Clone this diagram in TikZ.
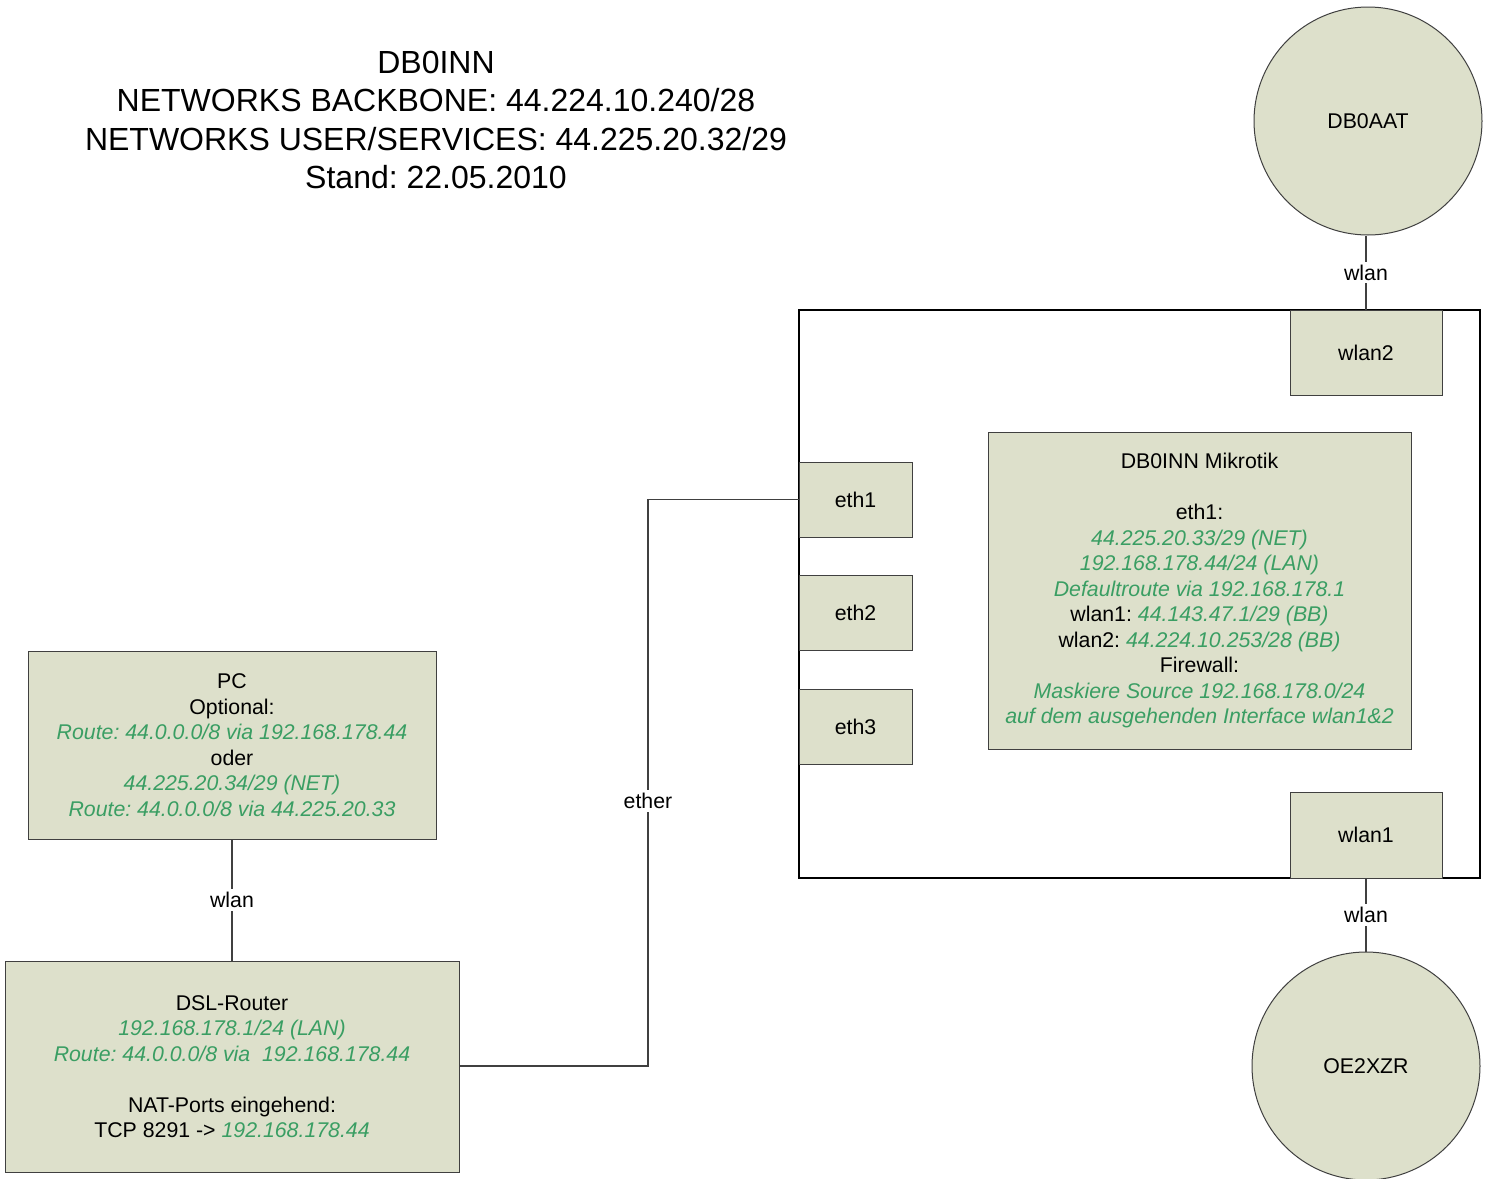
\documentclass[tikz,border=0pt]{standalone}
\usepackage{fontspec}
\setmainfont{Liberation Sans}
\frenchspacing
\begin{document}
\definecolor{boxfill}{HTML}{DDE0CB}
\definecolor{ipgreen}{HTML}{3A9E63}
\definecolor{edge}{HTML}{404040}
\newcommand{\ip}[1]{{\color{ipgreen}\itshape #1}}
\begin{tikzpicture}[x=1pt,y=-1pt,
  body/.style={font=\fontsize{21.3}{25.5}\selectfont, align=center},
  unit/.style={body, draw=edge, line width=1pt, fill=boxfill, rectangle, inner sep=0pt},
  station/.style={body, draw=edge, line width=1pt, fill=boxfill, circle, minimum size=228pt, inner sep=0pt},
  link/.style={draw=edge, line width=1.2pt},
  lbl/.style={body, fill=white, inner sep=3pt}]
\useasboundingbox (0,0) rectangle (1491,1178);
\fill[white] (0,0) rectangle (1491,1178);

% heading
\node[font=\fontsize{32}{38.5}\selectfont, align=center] (title) at (436,120)
  {DB0INN\\NETWORKS BACKBONE: 44.224.10.240/28\\NETWORKS USER/SERVICES: 44.225.20.32/29\\Stand: 22.05.2010};

% router enclosure
\draw[black, line width=2pt] (799,310) rectangle (1480,878);

% remote stations
\node[station] (aat) at (1368,121) {DB0AAT};
\node[station] (xzr) at (1366,1066) {OE2XZR};

% interfaces
\node[unit, minimum width=152pt, minimum height=85pt] (wlan2) at (1366,352.5) {wlan2};
\node[unit, minimum width=152pt, minimum height=86pt] (wlan1) at (1366,835) {wlan1};
\node[unit, minimum width=113pt, minimum height=75pt] (eth1) at (855.5,499.5) {eth1};
\node[unit, minimum width=113pt, minimum height=75pt] (eth2) at (855.5,612.5) {eth2};
\node[unit, minimum width=113pt, minimum height=75pt] (eth3) at (855.5,726.5) {eth3};

% configuration of the Mikrotik
\node[unit, minimum width=423pt, minimum height=317pt] (mikrotik) at (1199.5,590.5)
  {DB0INN Mikrotik\\ \strut\\eth1:\\
   \ip{44.225.20.33/29 (NET)}\\
   \ip{192.168.178.44/24 (LAN)}\\
   \ip{Defaultroute via 192.168.178.1}\\
   wlan1: \ip{44.143.47.1/29 (BB)}\\
   wlan2: \ip{44.224.10.253/28 (BB)}\\
   Firewall:\\
   \ip{Maskiere Source 192.168.178.0/24}\\
   \ip{auf dem ausgehenden Interface wlan1\&2}};

% PC
\node[unit, minimum width=408pt, minimum height=188pt] (pc) at (232,745)
  {PC\\Optional:\\
   \ip{Route: 44.0.0.0/8 via 192.168.178.44}\\
   oder\\
   \ip{44.225.20.34/29 (NET)}\\
   \ip{Route: 44.0.0.0/8 via 44.225.20.33}};

% DSL router
\node[unit, minimum width=454pt, minimum height=211pt] (dsl) at (232,1066.5)
  {DSL-Router\\
   \ip{192.168.178.1/24 (LAN)}\\
   \ip{Route: 44.0.0.0/8 via\ \ 192.168.178.44}\\ \strut\\
   NAT-Ports eingehend:\\
   TCP 8291 -> \ip{192.168.178.44}};

% connections
\draw[link] (wlan2.north |- aat.south) -- node[lbl] {wlan} (wlan2.north);
\draw[link] (wlan1.south) -- node[lbl] {wlan} (xzr.north);
\draw[link] (pc.south) -- node[lbl] {wlan} (dsl.north);
\coordinate (bend) at (648,1066);
\draw[link] (dsl.east |- bend) -- (bend) -- node[lbl, pos=0.468] {ether} (bend |- eth1.west) -- (eth1.west);
\end{tikzpicture}
\end{document}
